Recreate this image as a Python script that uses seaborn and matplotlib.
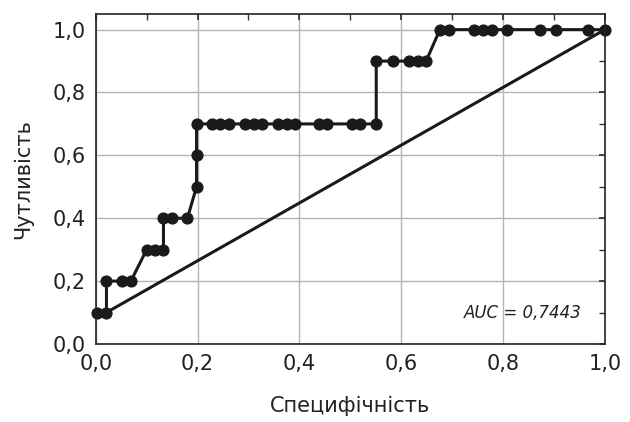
import matplotlib
matplotlib.use("Agg")
import matplotlib.pyplot as plt
import numpy as np
import pandas as pd
import seaborn as sns
from matplotlib.ticker import MultipleLocator, FuncFormatter

# ROC curve points (1 - specificity on x, sensitivity on y)
spec = [0.003, 0.021, 0.021, 0.051, 0.069, 0.100, 0.116, 0.133, 0.133, 0.149,
        0.180, 0.198, 0.198, 0.198, 0.229, 0.245, 0.261, 0.294, 0.310, 0.327,
        0.358, 0.375, 0.391, 0.438, 0.454, 0.503, 0.520, 0.551, 0.551, 0.584,
        0.616, 0.633, 0.649, 0.676, 0.694, 0.744, 0.761, 0.778, 0.807, 0.873,
        0.905, 0.967, 1.000]
sens = [0.1, 0.1, 0.2, 0.2, 0.2, 0.3, 0.3, 0.3, 0.4, 0.4,
        0.4, 0.5, 0.6, 0.7, 0.7, 0.7, 0.7, 0.7, 0.7, 0.7,
        0.7, 0.7, 0.7, 0.7, 0.7, 0.7, 0.7, 0.7, 0.9, 0.9,
        0.9, 0.9, 0.9, 1.0, 1.0, 1.0, 1.0, 1.0, 1.0, 1.0,
        1.0, 1.0, 1.0]
ref_x = [0.021, 1.0]
ref_y = [0.1, 1.0]
auc_text = "AUC = 0,7443"

sns.set_theme(style="white")
plt.rcParams["font.family"] = ["DejaVu Sans"]

fig = plt.figure(figsize=(6.3, 4.22), dpi=100)
ax = fig.add_axes([0.152, 0.185, 0.808, 0.782])

roc = pd.DataFrame({"x": spec, "y": sens})
ref = pd.DataFrame({"x": ref_x, "y": ref_y})
sns.lineplot(data=ref, x="x", y="y", ax=ax, color="#1a1a1a", lw=2.2, sort=False,
             estimator=None)
sns.lineplot(data=roc, x="x", y="y", ax=ax, color="#1a1a1a", lw=2.2, sort=False,
             estimator=None, marker="o", markersize=8,
             markeredgecolor="#1a1a1a", clip_on=False)

ax.set_xlim(0, 1.0)
ax.set_ylim(0, 1.05)
ax.xaxis.set_major_locator(MultipleLocator(0.2))
ax.yaxis.set_major_locator(MultipleLocator(0.2))
ax.xaxis.set_minor_locator(MultipleLocator(0.1))
ax.yaxis.set_minor_locator(MultipleLocator(0.1))
fmt = FuncFormatter(lambda v, p: f"{v:.1f}".replace(".", ","))
ax.xaxis.set_major_formatter(fmt)
ax.yaxis.set_major_formatter(fmt)
ax.grid(True, which="major", color="#b4b4b4", lw=1)
ax.tick_params(which="both", direction="in", top=True, right=True,
               color="#333333", labelsize=15, labelcolor="#222222")
ax.tick_params(which="major", length=4, pad=7)
ax.tick_params(which="minor", length=4)
for s in ax.spines.values():
    s.set_color("#222222")
    s.set_linewidth(1.2)

ax.set_xlabel("Специфічність", fontsize=15, color="#222222", labelpad=16)
ax.set_ylabel("Чутливість", fontsize=15, color="#222222", labelpad=14)
ax.text(0.955, 0.1, auc_text, fontsize=12, style="italic", color="#222222",
        ha="right", va="center")

fig.savefig("out.png", dpi=100)
